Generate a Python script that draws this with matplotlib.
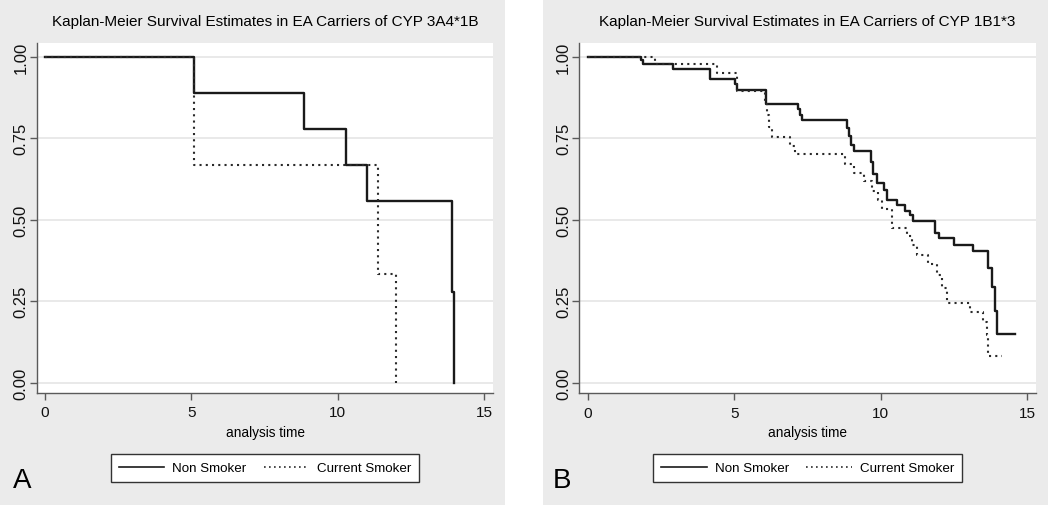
import matplotlib
matplotlib.use("Agg")
import matplotlib.pyplot as plt
from matplotlib.patches import Rectangle
from matplotlib import font_manager

# ---------------- data ----------------
titles = ["Kaplan-Meier Survival Estimates in EA Carriers of CYP 3A4*1B",
          "Kaplan-Meier Survival Estimates in EA Carriers of CYP 1B1*3"]
panel_letters = ["A", "B"]
series_names = ["Non Smoker", "Current Smoker"]
x_ticks = [0, 5, 10, 15]
y_ticks = [0.00, 0.25, 0.50, 0.75, 1.00]
y_tick_labels = ["0.00", "0.25", "0.50", "0.75", "1.00"]
x_label = "analysis time"

# Panel A
a_non_time = [0, 5.1, 8.85, 10.3, 11.0, 13.92, 13.96]
a_non_surv = [1.0, 0.889, 0.778, 0.667, 0.556, 0.278, 0.0]
a_cur_time = [0, 5.1, 11.38, 12.0]
a_cur_surv = [1.0, 0.667, 0.333, 0.0]

# Panel B
b_non_time = [0, 1.82, 1.9, 2.92, 4.17, 5.02, 5.1, 6.1, 7.19, 7.25, 7.32,
              8.84, 8.92, 9.0, 9.09, 9.67, 9.75, 9.86, 10.1, 10.2, 10.55,
              10.83, 11.0, 11.11, 11.85, 11.97, 12.5, 13.13, 13.67, 13.79,
              13.88, 13.96, 14.58]
b_non_surv = [1.0, 0.988, 0.977, 0.961, 0.932, 0.915, 0.898, 0.855, 0.84,
              0.822, 0.806, 0.78, 0.755, 0.73, 0.709, 0.675, 0.64, 0.611,
              0.591, 0.56, 0.544, 0.526, 0.514, 0.494, 0.458, 0.443, 0.422,
              0.402, 0.351, 0.294, 0.22, 0.148, 0.148]
b_cur_time = [0, 2.3, 4.4, 5.08, 6.04, 6.12, 6.2, 6.28, 6.9, 7.07, 8.78,
              9.07, 9.41, 9.69, 9.92, 10.03, 10.37, 10.89, 11.06, 11.23,
              11.62, 11.91, 12.08, 12.25, 13.05, 13.5, 13.62, 13.67, 14.13]
b_cur_surv = [1.0, 0.977, 0.949, 0.893, 0.865, 0.82, 0.785, 0.752, 0.725,
              0.701, 0.67, 0.642, 0.617, 0.586, 0.56, 0.532, 0.475, 0.448,
              0.422, 0.391, 0.363, 0.33, 0.289, 0.245, 0.215, 0.187, 0.146,
              0.08, 0.08]

panels = [(a_non_time, a_non_surv, a_cur_time, a_cur_surv),
          (b_non_time, b_non_surv, b_cur_time, b_cur_surv)]

# ---------------- style ----------------
avail = {f.name for f in font_manager.fontManager.ttflist}
narrow_ok = "Liberation Sans Narrow" in avail
NARROW = ["Liberation Sans Narrow" if narrow_ok else "Liberation Sans", "DejaVu Sans"]
REG = ["Liberation Sans", "DejaVu Sans"]
k = 1.0 if narrow_ok else 0.82   # shrink factor when no condensed face

W, H = 1050, 506
fig = plt.figure(figsize=(W / 100, H / 100), dpi=100, facecolor="white")

panel_bg = "#ebebeb"
line_col = "#1a1a1a"
spine_col = "#5a5a5a"
grid_col = "#e9e9e9"

# background panels (pixel geometry)
bg_boxes = [(0, 505), (543, 1048)]
for x0, x1 in bg_boxes:
    fig.patches.append(Rectangle((x0 / W, 0), (x1 - x0) / W, 1,
                                 transform=fig.transFigure, facecolor=panel_bg,
                                 edgecolor="none", zorder=-5))

# axes geometry in pixels: left, right, top, bottom ; x0 pixel, px/unit
ax_px = [(37, 493, 44, 394, 45.0, 29.27), (579.3, 1036, 44, 394.3, 587.7, 29.31)]
y0_px = 383.5
y_scale = 326.0

for i, (nt, ns, ct, cs) in enumerate(panels):
    l, r, t, b, x0p, xs = ax_px[i]
    ax = fig.add_axes([l / W, (H - b) / H, (r - l) / W, (b - t) / H])
    ax.set_zorder(2)
    ax.set_facecolor("white")
    ax.set_xlim((l - x0p) / xs, (r - x0p) / xs)
    ax.set_ylim((y0_px - b) / y_scale, (y0_px - t) / y_scale)

    ax.step(nt, ns, where="post", color=line_col, lw=1.7, zorder=3,
            label=series_names[0])
    ax.step(ct, cs, where="post", color="#2a2a2a", lw=1.5, zorder=3,
            linestyle=(0, (1, 2.0)), label=series_names[1])

    for sp in ["top", "right"]:
        ax.spines[sp].set_visible(False)
    for sp in ["left", "bottom"]:
        ax.spines[sp].set_color(spine_col)
        ax.spines[sp].set_linewidth(1.0)

    ax.set_yticks(y_ticks)
    ax.set_yticklabels(y_tick_labels, rotation=90, va="center",
                       family=REG, fontsize=12)
    ax.set_xticks(x_ticks)
    ax.set_xticklabels([str(v) for v in x_ticks], family=NARROW,
                       fontsize=12.5 * k + 0.8)
    ax.tick_params(direction="out", length=5, width=1.0, color=spine_col,
                   labelcolor="#111111")
    ax.tick_params(axis="y", pad=1)
    ax.tick_params(axis="x", pad=4)
    ax.yaxis.grid(True, color=grid_col, lw=1.4)
    ax.set_axisbelow(True)

    ax.set_xlabel(x_label, family=NARROW, fontsize=12 * k)
    ax.xaxis.label.set_va("center")
    ax.xaxis.set_label_coords(0.5, (b - 433) / (b - t))

    cx = (l + r) / 2
    fig.text(cx / W, (H - 22) / H, titles[i], ha="center", va="center",
             family=NARROW, fontsize=13.5 * k - 0.1)

    leg = ax.legend(loc="center", bbox_to_anchor=(cx / W, (H - 469) / H),
                    bbox_transform=fig.transFigure, ncol=2, frameon=True,
                    fancybox=False, edgecolor="#333333", framealpha=1,
                    prop={"family": NARROW, "size": 9.6}, handlelength=3.4,
                    handletextpad=0.6, columnspacing=1.3, borderpad=0.6,
                    borderaxespad=0)
    leg.get_frame().set_linewidth(1.0)
    for ln in leg.get_lines():
        ln.set_linewidth(1.2)

    letter_x = [13, 553][i]
    fig.text(letter_x / W, (H - 481) / H, panel_letters[i], ha="left",
             va="center", family=REG, fontsize=20)

fig.savefig("out.png", dpi=100, facecolor="white")
